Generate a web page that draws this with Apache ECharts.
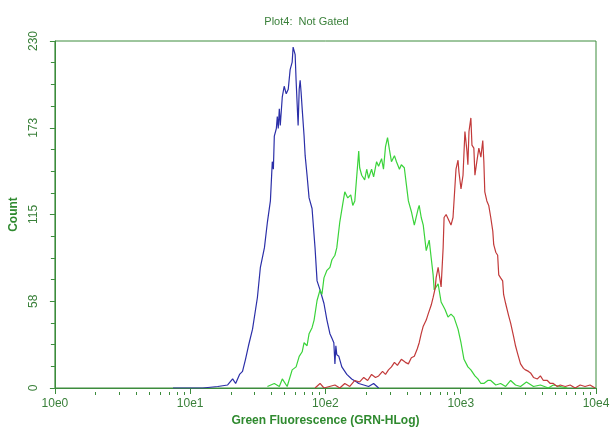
<!DOCTYPE html>
<html>
<head>
<meta charset="utf-8">
<script src="https://cdn.jsdelivr.net/npm/echarts@6/dist/echarts.min.js"></script>
<style>html,body{margin:0;padding:0;background:#fff}#c{width:613px;height:432px}</style>
</head>
<body>
<div id="c"></div>
<script>
// x positions are in log decades (HLog scale): 0 = 10e0 ... 4 = 10e4
var xTickLabels = ['10e0', '10e1', '10e2', '10e3', '10e4'];
var yTickValues = [0, 57.5, 115, 172.5, 230];

var blueX = [0.873,1.094,1.204,1.277,1.314,1.336,1.365,1.387,1.409,1.431,1.461,1.497,1.519,1.549,1.571,1.593,1.607,1.615,1.622,1.637,1.644,1.651,1.659,1.666,1.681,1.695,1.710,1.725,1.732,1.739,1.754,1.761,1.769,1.776,1.783,1.791,1.798,1.806,1.813,1.820,1.828,1.842,1.850,1.864,1.879,1.901,1.923,1.938,1.960,1.989,2.011,2.033,2.048,2.062,2.070,2.077,2.084,2.099,2.121,2.158,2.194,2.231,2.246,2.283,2.319,2.356,2.393];
var blueY = [0,0,1,2,6,3,9,11,19,28,39,60,80,93,110,124,150,145,167,172,180,172,185,174,193,200,195,198,197,211,216,226,225,221,204,188,174,198,204,196,185,167,154,141,126,119,93,71,65,56,45,36,33,30,16,28,22,21,14,9,6,4,3,2,1,3,0];

var greenX = [1.571,1.622,1.659,1.681,1.717,1.754,1.783,1.806,1.828,1.842,1.864,1.879,1.901,1.916,1.938,1.960,1.974,1.989,2.011,2.033,2.048,2.070,2.084,2.106,2.128,2.143,2.165,2.187,2.202,2.217,2.231,2.246,2.253,2.268,2.290,2.305,2.319,2.341,2.356,2.378,2.393,2.415,2.429,2.444,2.459,2.473,2.488,2.510,2.525,2.547,2.561,2.583,2.598,2.613,2.635,2.657,2.686,2.693,2.708,2.723,2.745,2.767,2.782,2.796,2.804,2.833,2.855,2.884,2.906,2.928,2.950,2.980,3.002,3.024,3.053,3.075,3.105,3.127,3.149,3.171,3.200,3.222,3.259,3.295,3.332,3.369,3.405,3.442,3.486,3.538,3.589,3.648,3.684,3.736,3.787];
var greenY = [1,3,1,6,1,12,14,21,24,30,28,36,40,45,58,65,62,73,78,80,85,88,93,110,122,130,126,128,121,124,140,157,146,141,138,145,139,145,140,150,147,152,145,160,166,158,150,154,150,145,148,146,135,124,117,108,119,121,113,108,91,98,86,75,65,69,57,52,47,49,47,39,30,19,14,12,8,6,3,3,5,5,2,3,1,5,2,1,4,1,2,0,2,1,0];

var redX = [1.923,1.960,1.989,2.070,2.106,2.143,2.180,2.217,2.253,2.283,2.312,2.341,2.370,2.393,2.422,2.444,2.466,2.488,2.510,2.532,2.561,2.591,2.613,2.635,2.657,2.679,2.693,2.708,2.723,2.745,2.759,2.782,2.796,2.811,2.818,2.833,2.855,2.870,2.877,2.892,2.906,2.928,2.943,2.965,2.980,2.987,3.002,3.017,3.031,3.046,3.053,3.061,3.075,3.083,3.097,3.105,3.119,3.134,3.149,3.163,3.171,3.178,3.193,3.207,3.222,3.237,3.244,3.259,3.273,3.281,3.295,3.310,3.317,3.332,3.354,3.369,3.391,3.405,3.420,3.442,3.464,3.479,3.501,3.516,3.538,3.567,3.589,3.611,3.640,3.662,3.684,3.714,3.736,3.773,3.809,3.846,3.883,3.919,3.956,3.993];
var redY = [0,3,0,2,0,3,1,5,4,7,5,9,7,8,11,9,12,14,17,15,19,17,16,20,21,26,30,36,41,45,49,55,60,66,73,80,67,93,113,115,114,108,113,145,151,143,132,141,170,157,148,170,179,161,159,141,150,159,153,164,150,130,124,121,113,104,95,90,88,75,73,71,62,56,48,43,34,28,23,16,13,12,11,10,7,6,8,5,5,3,3,1,2,1,2,0,2,1,2,0];

function pairs(xs, ys) { return xs.map(function (x, i) { return [x, ys[i]]; }); }

var minorTicks = [];
for (var d = 0; d < 4; d++) for (var k = 2; k <= 9; k++) minorTicks.push(d + Math.log10(k));

var G = '#3a803a';
var AX = '#3c8c3c';
var FONT = 'Liberation Sans, Arial';
var chart = echarts.init(document.getElementById('c'), null, { renderer: 'canvas' });
chart.setOption({
  backgroundColor: '#fff',
  animation: false,
  title: {
    text: 'Plot4:  Not Gated', left: 'center', top: 11,
    textStyle: { color: G, fontSize: 11, fontWeight: 'normal', fontFamily: FONT }
  },
  grid: { left: 51, right: 17, top: 41, bottom: 40, show: true, borderColor: AX, borderWidth: 1, backgroundColor: '#fff' },
  xAxis: [{
    type: 'value', min: 0, max: 4, interval: 1, position: 'bottom',
    name: 'Green Fluorescence (GRN-HLog)', nameLocation: 'middle', nameGap: 27,
    nameTextStyle: { color: '#2f8a2f', fontSize: 12, fontWeight: 'bold', fontFamily: FONT },
    axisLine: { show: true, lineStyle: { color: AX, width: 1 } },
    axisTick: { show: true, length: 6, lineStyle: { color: AX } },
    axisLabel: { color: G, fontSize: 12, margin: 10, fontFamily: FONT,
      formatter: function (v) { return xTickLabels[Math.round(v)]; } },
    splitLine: { show: false }
  }, {
    // minor (log) ticks, drawn on the bottom edge
    type: 'value', min: 0, max: 4, position: 'top', offset: -351,
    axisLine: { show: false },
    axisTick: { show: true, inside: true, length: 3, customValues: minorTicks, lineStyle: { color: AX } },
    axisLabel: { show: false },
    splitLine: { show: false }
  }],
  yAxis: {
    type: 'value', min: 0, max: 230, interval: 57.5,
    name: 'Count', nameLocation: 'middle', nameGap: 28,
    nameTextStyle: { color: '#2f8a2f', fontSize: 12, fontWeight: 'bold', fontFamily: FONT },
    axisLine: { show: true, lineStyle: { color: AX, width: 1 } },
    axisTick: { show: true, length: 5, lineStyle: { color: AX } },
    minorTick: { show: true, splitNumber: 4, length: 4, lineStyle: { color: AX } },
    axisLabel: { color: G, fontSize: 12, rotate: 90, margin: 15, fontFamily: FONT,
      formatter: function (v) { return String(Math.round(v)); } },
    splitLine: { show: false }
  },
  series: [
    { type: 'line', data: pairs(blueX, blueY), showSymbol: false, lineStyle: { color: '#2b2fa8', width: 1.2 }, itemStyle: { color: '#2b2fa8' } },
    { type: 'line', data: pairs(greenX, greenY), showSymbol: false, lineStyle: { color: '#3ad33a', width: 1.2 }, itemStyle: { color: '#3ad33a' } },
    { type: 'line', data: pairs(redX, redY), showSymbol: false, lineStyle: { color: '#c23a3a', width: 1.2 }, itemStyle: { color: '#c23a3a' } }
  ]
});
</script>
</body>
</html>
